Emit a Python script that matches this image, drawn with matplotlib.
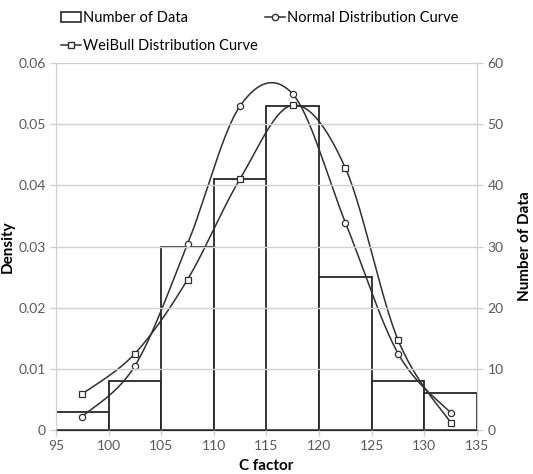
import matplotlib
matplotlib.use("Agg")
import matplotlib.pyplot as plt
import matplotlib.patches as mpatches
from matplotlib.lines import Line2D
import numpy as np

plt.rcParams["font.family"] = ["Lato", "DejaVu Sans"]

# data
bin_left   = [95, 100, 105, 110, 115, 120, 125, 130]
bin_width  = 5
counts     = [3, 8, 30, 41, 53, 25, 8, 6]
mid_points = [97.5, 102.5, 107.5, 112.5, 117.5, 122.5, 127.5, 132.5]
normal_pdf = [0.0022, 0.0105, 0.0304, 0.0530, 0.0549, 0.0339, 0.0125, 0.0028]
weibull_pdf = [0.0059, 0.0125, 0.0246, 0.0411, 0.0531, 0.0428, 0.0147, 0.0012]

GRID = "#d0d0d0"
TXT = "#595959"


def smooth(xs, ys, n=30):
    # Excel-style smoothed line: cubic Bezier segments with Catmull-Rom controls
    p = np.column_stack([xs, ys]).astype(float)
    p = np.vstack([p[0], p, p[-1]])
    out = []
    t = np.linspace(0, 1, n)[:, None]
    for i in range(1, len(p) - 2):
        p0, p1, p2, p3 = p[i - 1], p[i], p[i + 1], p[i + 2]
        c1 = p1 + (p2 - p0) / 6
        c2 = p2 - (p3 - p1) / 6
        seg = ((1 - t) ** 3) * p1 + 3 * ((1 - t) ** 2) * t * c1 \
            + 3 * (1 - t) * t ** 2 * c2 + t ** 3 * p2
        out.append(seg)
    out = np.vstack(out)
    return out[:, 0], out[:, 1]


fig = plt.figure(figsize=(5.33, 4.74), dpi=100)
ax = fig.add_axes([56 / 533, 1 - 430 / 474, (477 - 56) / 533, (430 - 63) / 474])
ax2 = ax.twinx()
ax.set_zorder(ax2.get_zorder() + 1)
ax.patch.set_visible(False)

ax2.bar(bin_left, counts, width=bin_width, align="edge",
        facecolor="white", edgecolor="#262626", linewidth=1.3)
ax2.set_ylim(0, 60)
ax2.set_yticks(range(0, 61, 10))

for ys, mk in [(normal_pdf, "o"), (weibull_pdf, "s")]:
    sx, sy = smooth(mid_points, ys)
    ax.plot(sx, sy, color="#303030", lw=1.1)
    ax.plot(mid_points, ys, ls="none", marker=mk, ms=4.5, mfc="white",
            mec="#303030", mew=0.9)

ax.set_xlim(95, 135)
ax.set_ylim(0, 0.06)
ax.set_xticks(range(95, 136, 5))
ax.set_yticks(np.arange(0, 0.061, 0.01))
ax.set_yticklabels(["0"] + [f"{v:.2f}" for v in np.arange(0.01, 0.061, 0.01)])
ax.grid(axis="y", color=GRID, lw=1.0)
ax.set_axisbelow(False)

for a in (ax, ax2):
    a.spines["top"].set_visible(False)
    a.spines["left"].set_color(GRID)
    a.spines["right"].set_color(GRID)
    a.spines["bottom"].set_color("#262626")
    a.tick_params(colors=GRID, labelcolor=TXT, labelsize=10, length=4, width=1)

mid_y = 0.5 * ((1 - 430 / 474) + (1 - 63 / 474))
fig.text(1 / 533, mid_y, "Density", rotation=90, ha="left", va="center",
         fontsize=11, fontweight="bold")
fig.text(532 / 533, mid_y, "Number of Data", rotation=90, ha="right", va="center",
         fontsize=11, fontweight="bold")
fig.text((56 + 477) / 2 / 533, 1 / 474, "C factor",
         ha="center", va="bottom", fontsize=11, fontweight="bold")

handles = [
    mpatches.Rectangle((0, 0), 1, 1, facecolor="white", edgecolor="#262626", lw=1.2),
    Line2D([], [], color="#303030", lw=1.1, marker="s", ms=4.5, mfc="white", mec="#303030"),
    Line2D([], [], color="#303030", lw=1.1, marker="o", ms=4.5, mfc="white", mec="#303030"),
]
labels = ["Number of Data", "WeiBull Distribution Curve", "Normal Distribution Curve"]
fig.legend(handles, labels, ncol=2, loc="upper left",
           bbox_to_anchor=(55 / 533, 1 - 5 / 474), frameon=False, fontsize=10.5,
           handlelength=1.4, handletextpad=0.1, columnspacing=0.5,
           labelspacing=0.95, borderaxespad=0)

fig.savefig("out.png", dpi=100)
